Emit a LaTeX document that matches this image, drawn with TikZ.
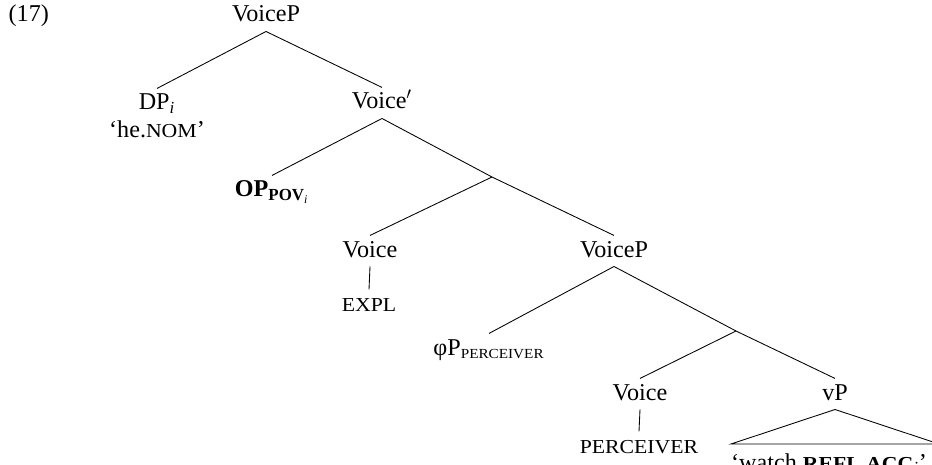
\documentclass[tikz,border=0pt]{standalone}
\usepackage{fontspec}
\setmainfont{Liberation Serif}
\usepackage{graphicx}
\usetikzlibrary{positioning}
\newcommand{\fsc}[1]{\scalebox{0.9}[0.82]{#1}}

\begin{document}
\begin{tikzpicture}[
  x=0.58pt, y=-0.58pt,
  every node/.style={font=\fontsize{14}{16}\selectfont, anchor=base,
    inner sep=2.5pt, text height=9.8pt, text depth=2.8pt},
  branch/.style={draw, line width=0.5pt}
]
\useasboundingbox (0,0) rectangle (932,465);
\node (ex) at (4,22) [anchor=base west] {(17)};
\node (vp0) at (266,22) {VoiceP};
\node (dp) at (157,110) {DP\textsubscript{\textit{i}}};
\node (he) at (157,138) {‘he.\fsc{NOM}’};
\node (vbar) at (382,109) {Voice$'$};
\node (op) at (272,197) {\textbf{OP}\textsubscript{\textbf{POV}\textsubscript{\textit{i}}}};
\coordinate (m1) at (492,177);
\node (v1) at (370,257) {Voice};
\node (expl) at (369,311) {\fsc{EXPL}};
\node (vp1) at (614,257) {VoiceP};
\node (phi) at (489,355) {φP\textsubscript{\fsc{PERCEIVER}}};
\coordinate (m2) at (736,331);
\node (v2) at (640,400) {Voice};
\node (perc) at (639,453) {\fsc{PERCEIVER}};
\node (vp2) at (835,400) {vP};
\node (watch) at (829,470) {‘watch \textbf{\fsc{REFL.ACC}}\textsubscript{\textit{i}}’};
\coordinate (tl) at (731,444);
\coordinate (tr) at (939,444);

\draw[branch] (vp0.south) -- (dp.north);
\draw[branch] (vp0.south) -- (vbar.north);
\draw[branch] (vbar.south) -- (op.north);
\draw[branch] (vbar.south) -- (m1);
\draw[branch] (m1) -- (v1.north);
\draw[branch] (m1) -- (vp1.north);
\draw[branch] (v1.south) -- (expl.north);
\draw[branch] (vp1.south) -- (phi.north);
\draw[branch] (vp1.south) -- (m2);
\draw[branch] (m2) -- (v2.north);
\draw[branch] (m2) -- (vp2.north);
\draw[branch] (v2.south) -- (perc.north);
\draw[branch] (vp2.south) -- (tl) -- (tr) -- cycle;
\end{tikzpicture}
\end{document}
